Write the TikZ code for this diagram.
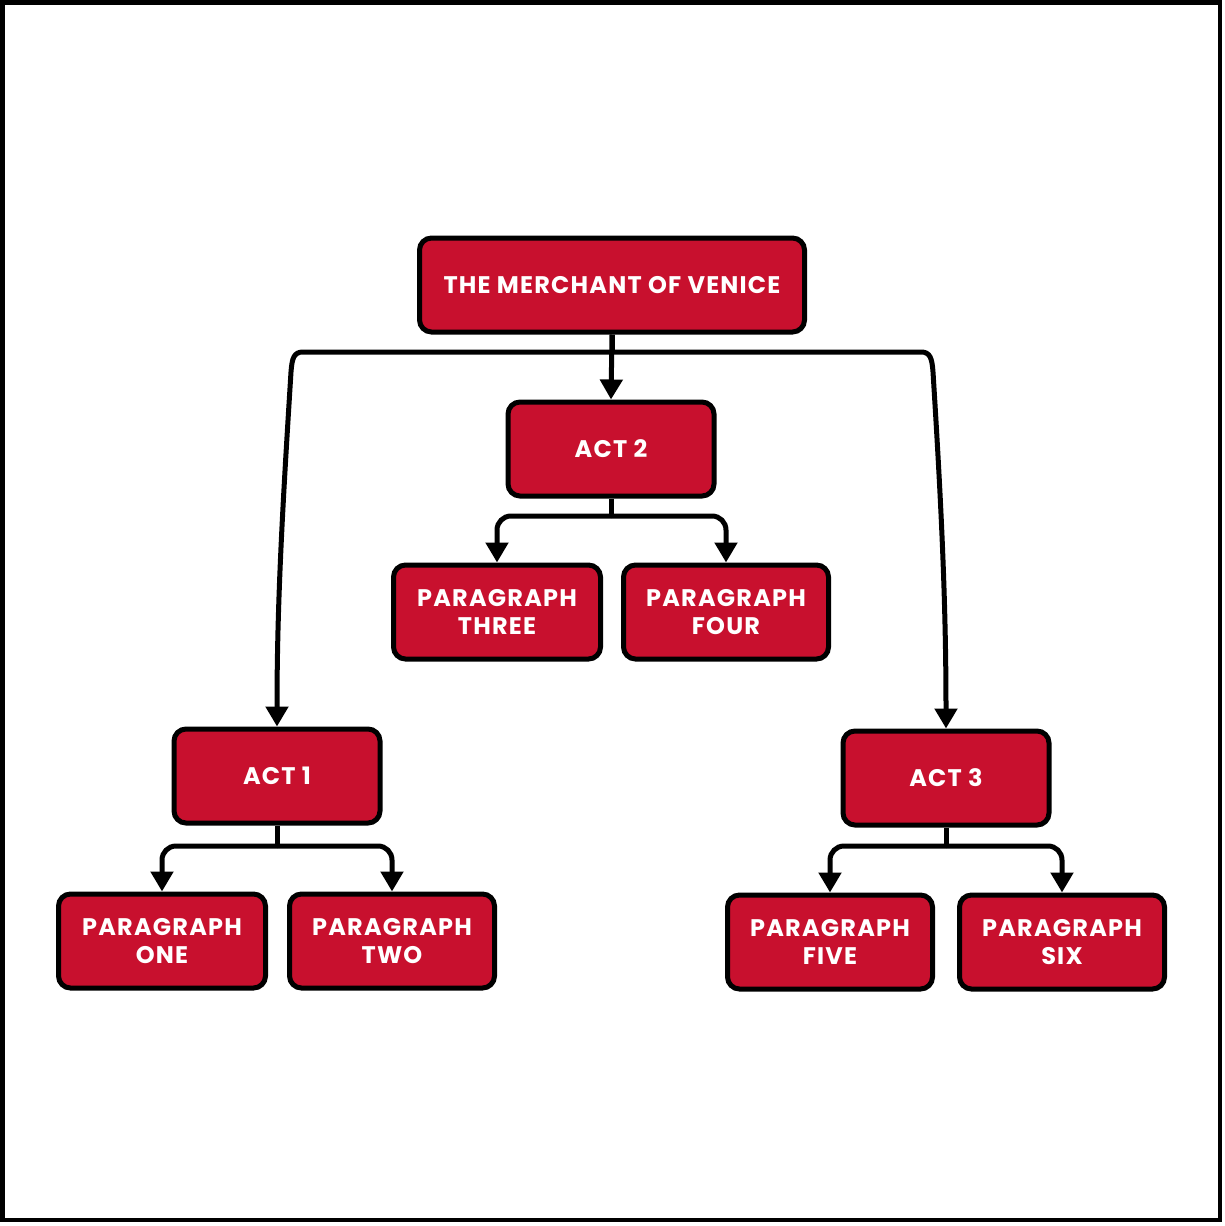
\documentclass[tikz,border=0pt]{standalone}
\usepackage{fontspec}
\setmainfont{Poppins}[LetterSpace=5]
\usetikzlibrary{arrows.meta}
\definecolor{boxred}{RGB}{200,16,46}
\begin{document}
\begin{tikzpicture}[x=1pt,y=-1pt,
  box/.style={draw=black, line width=5pt, fill=boxred, rounded corners=12pt,
    minimum height=94pt, text=white, font=\fontsize{24}{28}\selectfont\bfseries,
    align=center, inner sep=0pt},
  conn/.style={line width=5pt, rounded corners=14pt,
    -{Triangle[width=22pt,length=20pt]}},
  stem/.style={line width=5pt}]
\useasboundingbox (0,0) rectangle (1225,1226);
\fill[white] (0,0) rectangle (1225,1226);
\draw[line width=4.5pt] (2.5,2.5) rectangle (1220,1220);

% play and acts
\node[box, minimum width=385pt] (play) at (612,285) {THE MERCHANT OF VENICE};
\node[box, minimum width=206pt] (act2) at (611,449) {ACT 2};
\node[box, minimum width=206pt] (act1) at (277,776) {ACT 1};
\node[box, minimum width=206pt] (act3) at (946,778) {ACT 3};

% paragraphs
\node[box, minimum width=207pt] (p3) at (497,612) {PARAGRAPH\\THREE};
\node[box, minimum width=205pt] (p4) at (726,612) {PARAGRAPH\\FOUR};
\node[box, minimum width=207pt] (p1) at (162,941) {PARAGRAPH\\ONE};
\node[box, minimum width=205pt] (p2) at (392,941) {PARAGRAPH\\TWO};
\node[box, minimum width=205pt] (p5) at (830,942) {PARAGRAPH\\FIVE};
\node[box, minimum width=205pt] (p6) at (1062,942) {PARAGRAPH\\SIX};

% branch points of the connectors
\coordinate (busL) at (303,352);
\coordinate (busR) at (921,352);
\coordinate (j2) at (611,516);
\coordinate (j1) at (277,846);
\coordinate (j3) at (946,846);

% play to acts: a straight drop to act 2, curved drops to acts 1 and 3
\draw[conn] (play.south) -- (act2.north);
\draw[stem] (play.south) -- (play.south |- busL);
\draw[line width=5pt, -{Triangle[width=22pt,length=20pt]}]
  (play.south |- busL) -- (busL)
  .. controls (294,352) and (292,358) .. (291,372)
  .. controls (283,500) and (277,600) .. (act1.north);
\draw[line width=5pt, -{Triangle[width=22pt,length=20pt]}]
  (play.south |- busR) -- (busR)
  .. controls (930,352) and (932,358) .. (933,372)
  .. controls (941,500) and (946,600) .. (act3.north);

% acts to paragraphs
\draw[stem] (act2.south) -- (j2);
\draw[conn] (j2) -| (p3.north);
\draw[conn] (j2) -| (p4.north);
\draw[stem] (act1.south) -- (j1);
\draw[conn] (j1) -| (p1.north);
\draw[conn] (j1) -| (p2.north);
\draw[stem] (act3.south) -- (j3);
\draw[conn] (j3) -| (p5.north);
\draw[conn] (j3) -| (p6.north);
\end{tikzpicture}
\end{document}
